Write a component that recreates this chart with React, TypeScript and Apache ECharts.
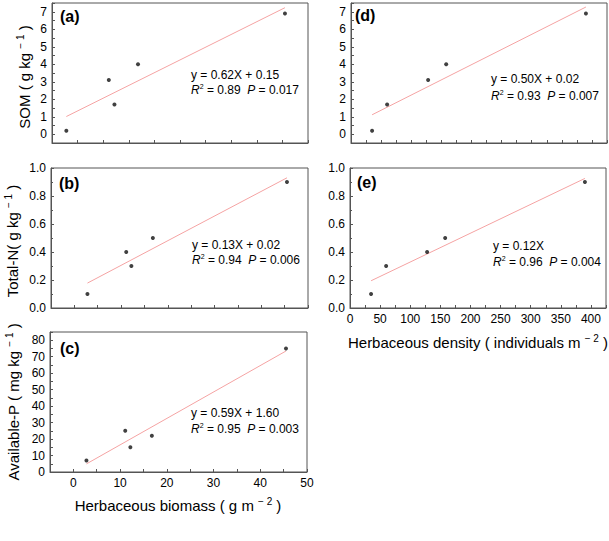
import React, { useEffect, useRef } from "react";
import * as echarts from "echarts";

// ---- data ----
const biomass = [2.8, 11.1, 12.2, 16.8, 45.5];
const somByBiomass = [0.2, 3.1, 1.7, 4.0, 6.9];
const nByBiomass = [0.1, 0.4, 0.3, 0.5, 0.9];
const pByBiomass = [7, 25, 15, 22, 75];
const density = [35, 60, 128, 158, 390];
const somByDensity = [0.2, 1.7, 3.1, 4.0, 6.9];
const nByDensity = [0.1, 0.3, 0.4, 0.5, 0.9];

const panelLabels = ["(a)", "(b)", "(c)", "(d)", "(e)"];
const equations = [
  "y = 0.62X + 0.15",
  "y = 0.13X + 0.02",
  "y = 0.59X + 1.60",
  "y = 0.50X + 0.02",
  "y = 0.12X",
];
const r2Values = ["0.89", "0.94", "0.95", "0.93", "0.96"];
const pValues = ["0.017", "0.006", "0.003", "0.007", "0.004"];

const FONT = "'Liberation Sans', Arial, Helvetica, sans-serif";
const AXIS_COLOR = "#555";
const FIT_COLOR = "#f5a3a3";

function fitLine(xs: number[], ys: number[]): number[][] {
  const n = xs.length;
  const mx = xs.reduce((a, b) => a + b, 0) / n;
  const my = ys.reduce((a, b) => a + b, 0) / n;
  let sxx = 0;
  let sxy = 0;
  for (let i = 0; i < n; i++) {
    sxx += (xs[i] - mx) * (xs[i] - mx);
    sxy += (xs[i] - mx) * (ys[i] - my);
  }
  const b = sxy / sxx;
  const a = my - b * mx;
  const x0 = Math.min(...xs);
  const x1 = Math.max(...xs);
  return [
    [x0, a + b * x0],
    [x1, a + b * x1],
  ];
}

const pairs = (xs: number[], ys: number[]) => xs.map((x, i) => [x, ys[i]]);

const App: React.FC = () => {
  const ref = useRef<HTMLDivElement>(null);

  useEffect(() => {
    if (!ref.current) return;
    const chart = echarts.init(ref.current, undefined, { renderer: "svg" });

    const grids = [
      { left: 52, top: 3, width: 256, height: 140 },
      { left: 51, top: 168, width: 257, height: 140 },
      { left: 50, top: 332, width: 257, height: 140 },
      { left: 351, top: 3, width: 256, height: 140 },
      { left: 350, top: 168, width: 256, height: 140 },
    ].map((g) => ({
      ...g,
      show: true,
      borderColor: AXIS_COLOR,
      borderWidth: 1,
      backgroundColor: "transparent",
    }));

    const labelStyle = {
      color: "#000",
      fontSize: 12,
      fontFamily: FONT,
      margin: 5,
    };

    const baseAxis = (extra: any) => ({
      type: "value",
      axisLine: { show: true, onZero: false, lineStyle: { color: AXIS_COLOR, width: 1 } },
      axisTick: { show: true, inside: true, length: 3, lineStyle: { color: AXIS_COLOR } },
      splitLine: { show: false },
      ...extra,
    });

    const hideLabel = { show: false };
    const xBio = (gi: number, min: number, showLabels: boolean) =>
      baseAxis({
        gridIndex: gi,
        min,
        max: 50,
        interval: 5,
        axisLabel: showLabels
          ? {
              ...labelStyle,
              formatter: (v: number) => (v % 10 === 0 && v >= 0 ? String(v) : ""),
            }
          : hideLabel,
      });
    const xDen = (gi: number, showLabels: boolean) =>
      baseAxis({
        gridIndex: gi,
        min: 0,
        max: 425,
        interval: 25,
        axisLabel: showLabels
          ? {
              ...labelStyle,
              formatter: (v: number) => (v % 50 === 0 ? String(v) : ""),
            }
          : hideLabel,
      });
    const ySom = (gi: number) =>
      baseAxis({
        gridIndex: gi,
        min: -0.5,
        max: 7.5,
        interval: 0.5,
        axisLabel: {
          ...labelStyle,
          formatter: (v: number) => (Math.abs(v - Math.round(v)) < 1e-6 ? String(Math.round(v)) : ""),
        },
      });
    const yN = (gi: number) =>
      baseAxis({
        gridIndex: gi,
        min: 0,
        max: 1,
        interval: 0.2,
        minorTick: { show: true, splitNumber: 2, length: 2, lineStyle: { color: AXIS_COLOR } },
        axisLabel: {
          ...labelStyle,
          formatter: (v: number) => v.toFixed(1),
        },
      });
    const yP = (gi: number) =>
      baseAxis({
        gridIndex: gi,
        min: 0,
        max: 85,
        interval: 5,
        axisLabel: {
          ...labelStyle,
          formatter: (v: number) => (Math.round(v) % 10 === 0 ? String(Math.round(v)) : ""),
        },
      });

    const xAxis = [xBio(0, 0, false), xBio(1, -5, false), xBio(2, -5, true), xDen(3, false), xDen(4, true)];
    const yAxis = [ySom(0), yN(1), yP(2), ySom(3), yN(4)];

    const sets: [number[], number[]][] = [
      [biomass, somByBiomass],
      [biomass, nByBiomass],
      [biomass, pByBiomass],
      [density, somByDensity],
      [density, nByDensity],
    ];

    const series: any[] = [];
    sets.forEach(([xs, ys], i) => {
      series.push({
        type: "line",
        xAxisIndex: i,
        yAxisIndex: i,
        data: fitLine(xs, ys),
        symbol: "none",
        lineStyle: { color: FIT_COLOR, width: 1 },
        silent: true,
        z: 2,
      });
      series.push({
        type: "scatter",
        xAxisIndex: i,
        yAxisIndex: i,
        data: pairs(xs, ys),
        symbol: "circle",
        symbolSize: 4,
        itemStyle: { color: "#111" },
        z: 3,
      });
    });

    const labelPos = [
      [60, 16],
      [59, 183],
      [60, 348],
      [355, 15],
      [357, 182],
    ];
    const eqPos = [
      [191, 75, 90],
      [192, 245, 260],
      [191, 413, 429],
      [491, 79, 96],
      [493, 246, 262],
    ];

    const rich = {
      n: { fontSize: 12, fontFamily: FONT, fill: "#000", lineHeight: 14 },
      i: { fontSize: 12, fontFamily: FONT, fontStyle: "italic", fill: "#000", lineHeight: 14 },
      s: { fontSize: 7, fontFamily: FONT, fill: "#000", verticalAlign: "top", lineHeight: 14 },
    };
    const titleRich = {
      n: { fontSize: 15, fontFamily: FONT, fill: "#000", lineHeight: 17 },
      s: { fontSize: 10, fontFamily: FONT, fill: "#000", verticalAlign: "top", lineHeight: 17 },
    };

    const graphic: any[] = [];
    panelLabels.forEach((t, i) => {
      graphic.push({
        type: "text",
        x: labelPos[i][0],
        y: labelPos[i][1],
        style: {
          text: t,
          font: `bold 16px ${FONT}`,
          fill: "#000",
          align: "left",
          verticalAlign: "middle",
        },
      });
      graphic.push({
        type: "text",
        x: eqPos[i][0],
        y: eqPos[i][1],
        style: {
          text: `{n|${equations[i]}}`,
          rich,
          align: "left",
          verticalAlign: "middle",
        },
      });
      graphic.push({
        type: "text",
        x: eqPos[i][0],
        y: eqPos[i][2],
        style: {
          text: `{i|R}{s|2}{n| = ${r2Values[i]}  }{i|P}{n| = ${pValues[i]}}`,
          rich,
          align: "left",
          verticalAlign: "middle",
        },
      });
    });

    const titles = [
      { text: "{n|SOM ( g kg }{s|− 1}{n| )}", x: 24, y: 77, rot: true },
      { text: "{n|Total-N( g kg }{s|− 1}{n| )}", x: 12, y: 241, rot: true },
      { text: "{n|Available-P ( mg kg }{s|− 1}{n| )}", x: 13, y: 402, rot: true },
      { text: "{n|Herbaceous biomass ( g m }{s|− 2}{n| )}", x: 178, y: 505, rot: false },
      { text: "{n|Herbaceous density ( individuals m }{s|− 2}{n| )}", x: 478, y: 342, rot: false },
    ];
    titles.forEach((t) => {
      graphic.push({
        type: "text",
        x: t.x,
        y: t.y,
        rotation: t.rot ? Math.PI / 2 : 0,
        style: {
          text: t.text,
          rich: titleRich,
          align: "center",
          verticalAlign: "middle",
        },
      });
    });

    chart.setOption({
      animation: false,
      backgroundColor: "#fff",
      grid: grids,
      xAxis,
      yAxis,
      series,
      graphic,
    });

    return () => chart.dispose();
  }, []);

  return (
    <div
      ref={ref}
      style={{ position: "absolute", left: 0, top: 0, width: 609, height: 541 }}
    />
  );
};

export default App;
